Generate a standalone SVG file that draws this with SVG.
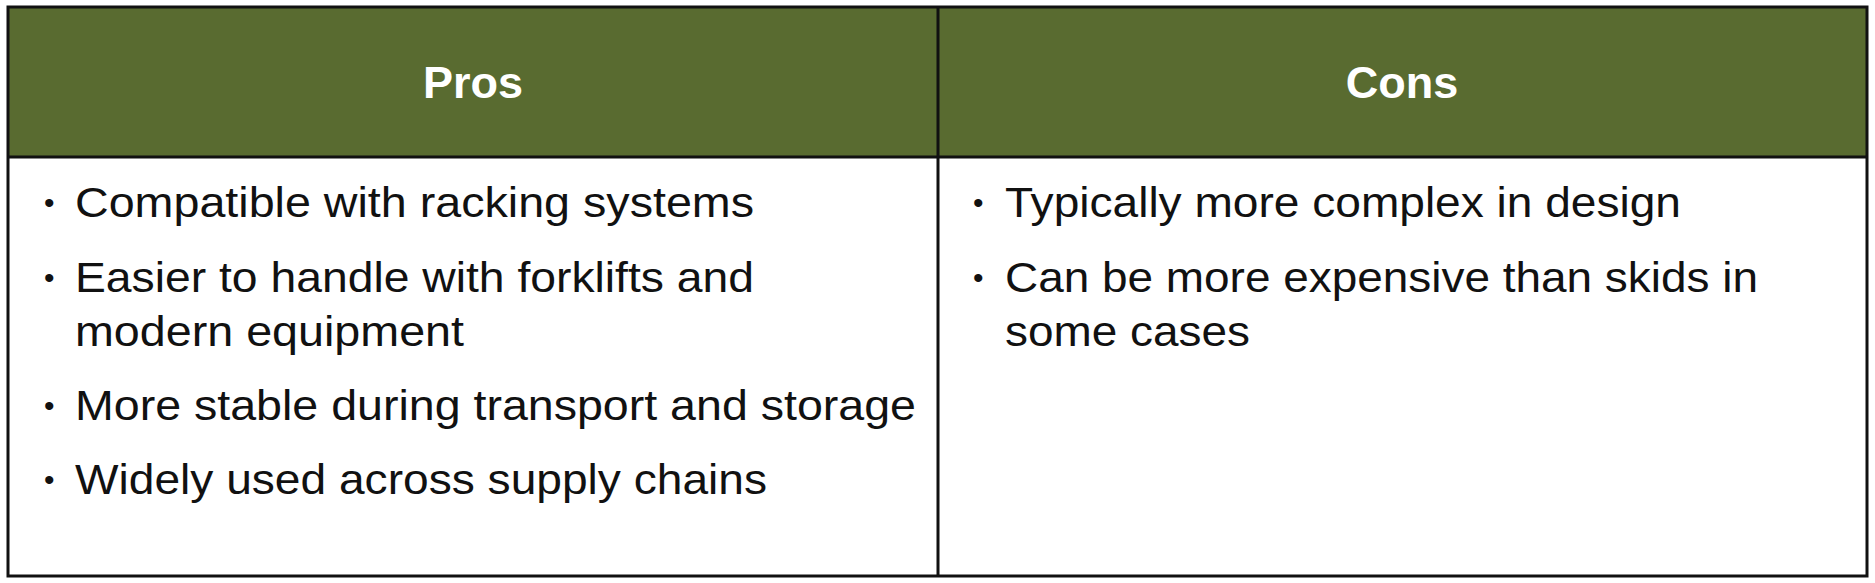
<svg xmlns="http://www.w3.org/2000/svg" width="1875" height="583" viewBox="0 0 1875 583">
<style>
.h{font-family:"Liberation Sans",Arial,sans-serif;font-weight:bold;font-size:45px;fill:#fff;text-anchor:middle}
.t{font-family:"Liberation Sans",Arial,sans-serif;font-size:43px;fill:#111}
.b{font-family:"Liberation Sans",Arial,sans-serif;font-size:30px;fill:#111}
</style>
<rect width="1875" height="583" fill="#fff"/>
<g id="header">
<rect x="8" y="7" width="1859" height="150" fill="#596B30"/>
<text class="h" x="473" y="98">Pros</text>
<text class="h" x="1402" y="98">Cons</text>
</g>
<g id="grid" stroke="#111" stroke-width="3" fill="none">
<rect x="8" y="7" width="1859" height="569"/>
<line x1="8" y1="157" x2="1867" y2="157"/>
<line x1="938" y1="7" x2="938" y2="576"/>
</g>
<g id="pros">
<text class="b" x="44" y="213">•</text>
<text class="t" x="75" y="217" textLength="679" lengthAdjust="spacingAndGlyphs">Compatible with racking systems</text>
<text class="b" x="44" y="288">•</text>
<text class="t" x="75" y="292" textLength="679" lengthAdjust="spacingAndGlyphs">Easier to handle with forklifts and</text>
<text class="t" x="75" y="346" textLength="389" lengthAdjust="spacingAndGlyphs">modern equipment</text>
<text class="b" x="44" y="416">•</text>
<text class="t" x="75" y="420" textLength="841" lengthAdjust="spacingAndGlyphs">More stable during transport and storage</text>
<text class="b" x="44" y="490">•</text>
<text class="t" x="75" y="494" textLength="692" lengthAdjust="spacingAndGlyphs">Widely used across supply chains</text>
</g>
<g id="cons">
<text class="b" x="973" y="213">•</text>
<text class="t" x="1005" y="217" textLength="676" lengthAdjust="spacingAndGlyphs">Typically more complex in design</text>
<text class="b" x="973" y="288">•</text>
<text class="t" x="1005" y="292" textLength="753" lengthAdjust="spacingAndGlyphs">Can be more expensive than skids in</text>
<text class="t" x="1005" y="346" textLength="245" lengthAdjust="spacingAndGlyphs">some cases</text>
</g>
</svg>
